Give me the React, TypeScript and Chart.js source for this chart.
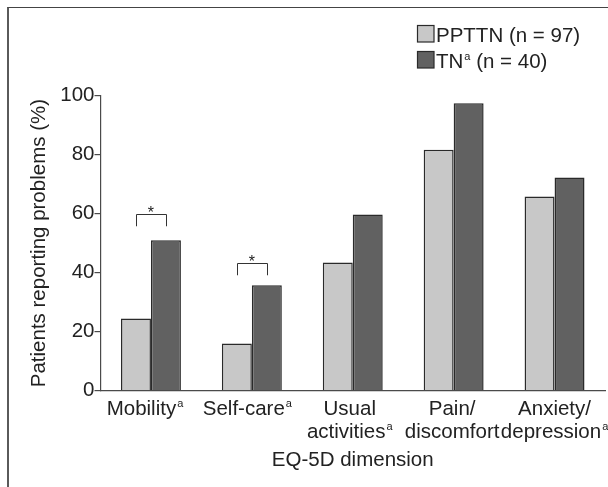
import React, { useEffect, useRef } from "react";
import { Chart, registerables } from "chart.js";

Chart.register(...registerables);

// EQ-5D dimensions (label lines) and their footnote markers
const categories: string[][] = [
  ["Mobility"],
  ["Self-care"],
  ["Usual", "activities"],
  ["Pain/", "discomfort"],
  ["Anxiety/", "depression"],
];
const categoryFootnotes = ["a", "a", "a", "", "a"];

// Groups
const seriesNames = ["PPTTN", "TN"];
const seriesFootnotes = ["", "a"];
const seriesCounts = [97, 40];

// Patients reporting problems (%)
const ppttnValues = [24.5, 16.0, 43.4, 81.6, 65.8];
const tnValues = [51.0, 35.7, 59.7, 97.4, 72.2];

const yTicks = [0, 20, 40, 60, 80, 100];

// Significance brackets: category index, bracket top (%), leg end (%)
const sigCategories = [0, 1];
const sigTops = [60.0, 43.4];
const sigFeet = [55.7, 39.1];

const FONT = '"Liberation Sans", Arial, Helvetica, sans-serif';
const SIZE = 20.5;
const TEXT = "#222222";
const FILLS = ["#c8c8c8", "#616161"];
const EDGE = "#2a2a2a";

type Part = { text: string; sup?: boolean };

const SUP_SIZE = 11;
const SUP_RAISE = 8.3;

function partWidth(ctx: CanvasRenderingContext2D, p: Part) {
  ctx.font = `${p.sup ? SUP_SIZE : SIZE}px ${FONT}`;
  return ctx.measureText(p.text).width + (p.sup ? 1 : 0);
}

// Draws a run of text where some parts are superscripts.
function drawRich(
  ctx: CanvasRenderingContext2D,
  parts: Part[],
  x: number,
  y: number,
  align: "left" | "center",
) {
  const total = parts.reduce((s, p) => s + partWidth(ctx, p), 0);
  let cx = align === "center" ? x - total / 2 : x;
  ctx.textAlign = "left";
  ctx.textBaseline = "alphabetic";
  ctx.fillStyle = TEXT;
  for (const p of parts) {
    const w = partWidth(ctx, p);
    ctx.font = `${p.sup ? SUP_SIZE : SIZE}px ${FONT}`;
    ctx.fillText(p.text, cx + (p.sup ? 1 : 0), p.sup ? y - SUP_RAISE : y);
    cx += w;
  }
}

const decorations = {
  id: "decorations",
  afterDatasetsDraw(chart: any) {
    const ctx: CanvasRenderingContext2D = chart.ctx;
    const x = chart.scales.x;
    const y = chart.scales.y;
    const area = chart.chartArea;
    ctx.save();

    // category labels with footnote markers; the label row is spread a
    // little wider than the bar groups so neighbouring labels stay apart
    const n = categories.length;
    categories.forEach((lines, i) => {
      const cx = x.getPixelForTick(i) + (i - (n - 1)) * 1.5;
      lines.forEach((line, j) => {
        const parts: Part[] = [{ text: line }];
        if (j === lines.length - 1 && categoryFootnotes[i]) {
          parts.push({ text: categoryFootnotes[i], sup: true });
        }
        drawRich(ctx, parts, cx, x.top + 24.2 + j * 23.2, "center");
      });
    });

    // significance brackets
    const m0 = chart.getDatasetMeta(0);
    const m1 = chart.getDatasetMeta(1);
    sigCategories.forEach((ci, k) => {
      const x1 = m0.data[ci].x;
      const x2 = m1.data[ci].x;
      const yt = Math.round(y.getPixelForValue(sigTops[k])) + 0.5;
      const yf = y.getPixelForValue(sigFeet[k]);
      ctx.strokeStyle = "#333333";
      ctx.lineWidth = 1;
      ctx.beginPath();
      ctx.moveTo(Math.round(x1) + 0.5, yf);
      ctx.lineTo(Math.round(x1) + 0.5, yt);
      ctx.lineTo(Math.round(x2) + 0.5, yt);
      ctx.lineTo(Math.round(x2) + 0.5, yf);
      ctx.stroke();
      ctx.fillStyle = TEXT;
      ctx.font = `16px ${FONT}`;
      ctx.textAlign = "center";
      ctx.textBaseline = "alphabetic";
      ctx.fillText("*", (x1 + x2) / 2, yt + 3);
    });

    // legend
    const lx = area.right - 187.5;
    seriesNames.forEach((name, i) => {
      const top = 25.5 + i * 26;
      ctx.fillStyle = FILLS[i];
      ctx.fillRect(lx, top, 16.5, 16.5);
      ctx.strokeStyle = EDGE;
      ctx.lineWidth = 1.2;
      ctx.strokeRect(lx, top, 16.5, 16.5);
      const parts: Part[] = [{ text: name }];
      if (seriesFootnotes[i]) parts.push({ text: seriesFootnotes[i], sup: true });
      parts.push({ text: ` (n = ${seriesCounts[i]})` });
      drawRich(ctx, parts, lx + 18.5, top + 16.8, "left");
    });

    ctx.restore();
  },
};

export default function App() {
  const canvasRef = useRef<HTMLCanvasElement | null>(null);

  useEffect(() => {
    if (!canvasRef.current) return;
    Chart.defaults.font.family = FONT;
    const chart = new Chart(canvasRef.current, {
      type: "bar",
      data: {
        labels: categories.map((c) => c.join(" ")),
        datasets: [
          {
            label: seriesNames[0],
            data: ppttnValues,
            backgroundColor: FILLS[0],
            borderColor: EDGE,
            borderWidth: 1.5,
          },
          {
            label: seriesNames[1],
            data: tnValues,
            backgroundColor: FILLS[1],
            borderColor: EDGE,
            borderWidth: 1.5,
          },
        ],
      },
      options: {
        responsive: false,
        animation: false,
        datasets: { bar: { categoryPercentage: 0.594, barPercentage: 1.0 } },
        layout: { padding: { top: 95.5, right: 3, bottom: 0, left: 0 } },
        plugins: {
          legend: { display: false },
          tooltip: { enabled: false },
        },
        scales: {
          x: {
            grid: { display: false },
            border: { display: true, color: "#4a4a4a", width: 1.2 },
            ticks: { display: false },
            title: {
              display: true,
              text: "EQ-5D dimension",
              color: TEXT,
              font: { size: SIZE, family: FONT },
              padding: { top: 0, bottom: 14.5 },
            },
            afterFit: (scale: any) => {
              scale.height = 96.3;
            },
          },
          y: {
            min: 0,
            max: 100,
            afterBuildTicks: (scale: any) => {
              scale.ticks = yTicks.map((v) => ({ value: v }));
            },
            ticks: {
              color: TEXT,
              font: { size: SIZE, family: FONT },
              padding: 0,
            },
            grid: {
              display: true,
              drawOnChartArea: false,
              drawTicks: true,
              tickLength: 6,
              color: "#4a4a4a",
              lineWidth: 1.2,
            },
            border: { display: true, color: "#4a4a4a", width: 1.2 },
            title: {
              display: true,
              text: "Patients reporting problems (%)",
              color: TEXT,
              font: { size: SIZE, family: FONT },
              padding: { top: 27.5, bottom: 0 },
            },
            afterFit: (scale: any) => {
              scale.width = 100.5;
            },
          },
        },
      },
      plugins: [decorations],
    });
    return () => chart.destroy();
  }, []);

  return (
    <>
      <div
        style={{
          position: "fixed",
          left: 7,
          top: 7,
          width: 700,
          height: 600,
          borderTop: "1.5px solid #444",
          borderLeft: "2px solid #5a5a5a",
          boxSizing: "border-box",
        }}
      />
      <canvas
        ref={canvasRef}
        width={608}
        height={487}
        style={{ position: "fixed", left: 0, top: 0, display: "block" }}
      />
    </>
  );
}
